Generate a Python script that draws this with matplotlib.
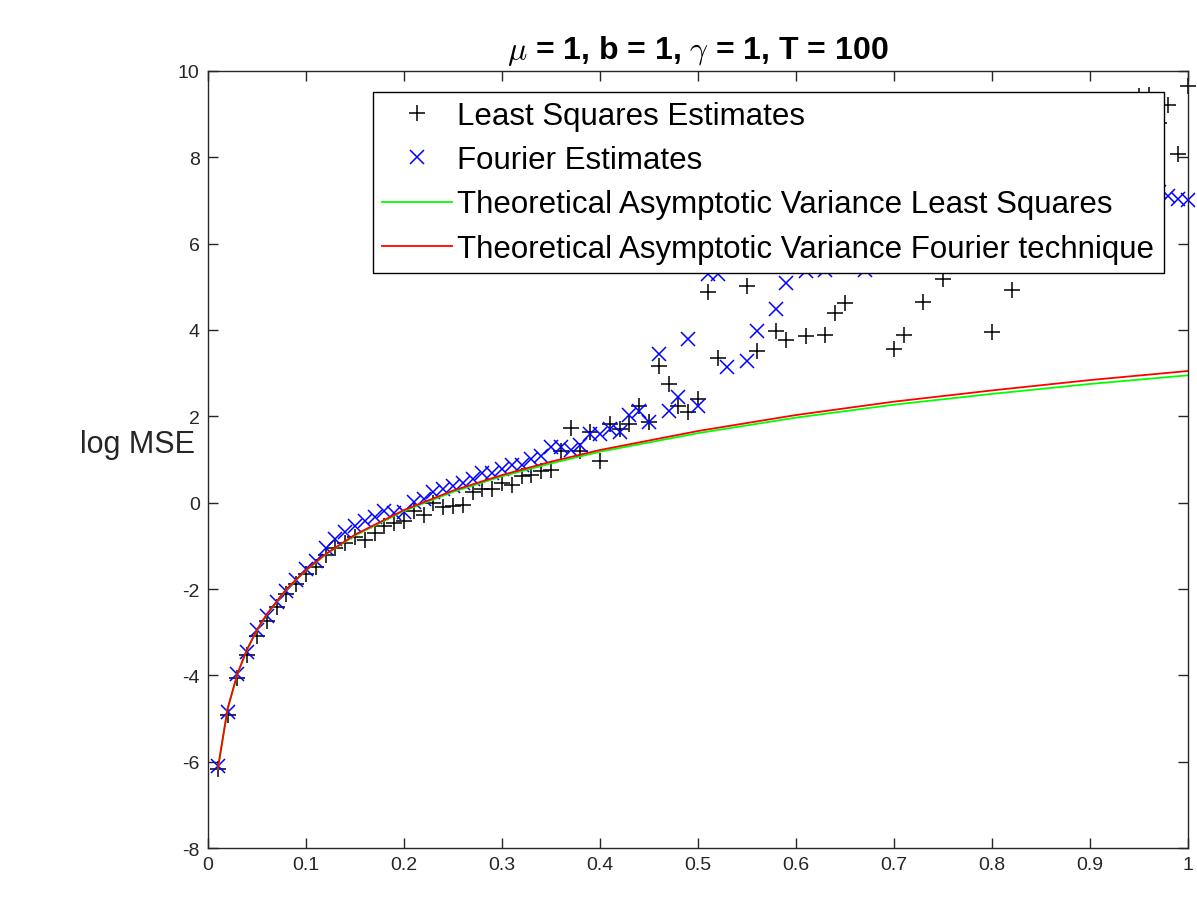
import matplotlib
matplotlib.use("Agg")
import matplotlib.pyplot as plt
import numpy as np

plt.rcParams['font.family'] = ['Liberation Sans', 'DejaVu Sans']
plt.rcParams['mathtext.fontset'] = 'cm'
plt.rcParams['axes.unicode_minus'] = False

# Sampling step values (x axis)
delta = [round(0.01 * i, 2) for i in range(1, 101)]

# Least squares estimates (log MSE)
ls_est = [
    -6.17, -4.91, -4.05, -3.54, -3.08, -2.73, -2.42, -2.11, -1.88, -1.65,
    -1.50, -1.22, -1.05, -0.93, -0.79, -0.86, -0.70, -0.54, -0.47, -0.42,
    -0.19, -0.28, 0.00, -0.10, -0.08, -0.05, 0.25, 0.32, 0.32, 0.46,
    0.41, 0.62, 0.64, 0.73, 0.76, 1.20, 1.72, 1.20, 1.63, 0.97,
    1.82, 1.70, 1.82, 2.25, 1.87, 3.17, 2.75, 2.25, 2.10, 2.40,
    4.87, 3.35, 6.40, 7.10, 5.03, 3.52, 6.60, 3.97, 3.77, 6.90,
    3.86, 7.30, 3.89, 4.39, 4.62, 6.80, 7.60, 7.00, 8.10, 3.56,
    3.88, 7.40, 4.64, 8.00, 5.18, 7.70, 5.55, 8.30, 7.20, 3.96,
    8.60, 4.93, 7.90, 8.80, 8.20, 9.00, 7.50, 8.40, 9.10, 8.70,
    9.00, 8.50, 9.20, 8.90, 9.42, 9.45, 8.80, 9.20, 8.08, 9.66,
]

# Fourier estimates (log MSE)
fourier_est = [
    -6.09, -4.85, -3.97, -3.46, -2.95, -2.62, -2.31, -2.04, -1.78, -1.54,
    -1.34, -1.05, -0.84, -0.68, -0.54, -0.42, -0.33, -0.19, -0.24, -0.22,
    0.02, 0.09, 0.25, 0.32, 0.39, 0.46, 0.55, 0.69, 0.69, 0.78,
    0.87, 0.87, 1.01, 1.08, 1.30, 1.30, 1.22, 1.33, 1.58, 1.59,
    1.70, 1.63, 2.02, 2.13, 1.87, 3.44, 2.13, 2.44, 3.79, 2.25,
    5.30, 5.30, 3.14, 6.10, 3.27, 3.97, 6.20, 4.48, 5.08, 6.30,
    5.36, 6.40, 5.40, 6.20, 6.30, 6.50, 5.40, 6.20, 6.60, 6.40,
    6.70, 6.30, 6.80, 6.50, 6.90, 6.70, 6.60, 7.00, 6.80, 6.90,
    7.10, 6.70, 7.00, 7.20, 6.90, 7.10, 7.30, 7.00, 7.20, 7.10,
    7.30, 7.00, 7.20, 7.40, 7.10, 7.30, 7.20, 7.10, 7.03, 7.00,
]

# Theoretical asymptotic variance curves
theory_x = [0.01, 0.02, 0.03, 0.04, 0.05, 0.06, 0.08, 0.10, 0.12, 0.15,
            0.20, 0.25, 0.30, 0.35, 0.40, 0.50, 0.60, 0.70, 0.80, 0.90, 1.00]
theory_fourier = [-6.16, -4.77, -3.96, -3.39, -2.94, -2.58, -2.00, -1.56, -1.19, -0.74,
                  -0.17, 0.28, 0.64, 0.95, 1.22, 1.66, 2.03, 2.34, 2.60, 2.84, 3.05]
theory_ls = [-6.17, -4.78, -3.97, -3.40, -2.95, -2.59, -2.01, -1.57, -1.20, -0.76,
             -0.19, 0.25, 0.61, 0.91, 1.18, 1.61, 1.97, 2.27, 2.52, 2.75, 2.95]

fig = plt.figure(figsize=(11.97, 9.04), dpi=100)
ax = fig.add_axes([0.1738, 0.0608, 0.8187, 0.8596])

dark = '#262626'
ax.plot(delta, ls_est, linestyle='none', marker='+', color='black',
        markersize=12, markeredgewidth=1.1, clip_on=False,
        label='Least Squares Estimates')
ax.plot(delta, fourier_est, linestyle='none', marker='x', color='blue',
        markersize=10, markeredgewidth=1.1, clip_on=False,
        label='Fourier Estimates')
ax.plot(theory_x, theory_ls, color='#00ff00', linewidth=1.3,
        label='Theoretical Asymptotic Variance Least Squares')
ax.plot(theory_x, theory_fourier, color='red', linewidth=1.3,
        label='Theoretical Asymptotic Variance Fourier technique')

ax.set_xlim(0, 1)
ax.set_ylim(-8, 10)
ax.set_xticks(np.arange(0, 1.01, 0.1))
ax.set_xticklabels(['0', '0.1', '0.2', '0.3', '0.4', '0.5', '0.6', '0.7', '0.8', '0.9', '1'])
ax.set_yticks(np.arange(-8, 11, 2))
ax.tick_params(direction='in', length=7, width=1, top=True, right=True,
               labelsize=14, colors=dark, pad=6)
for s in ax.spines.values():
    s.set_color(dark)
    s.set_linewidth(1)

ax.set_title(r'$\mu$ = 1, b = 1, $\gamma$ = 1, T = 100', fontsize=23,
             fontweight='bold', pad=9, color='black')
ax.set_ylabel('log MSE', rotation=0, fontsize=22, ha='right', va='center', color=dark)
ax.yaxis.set_label_coords(-0.013, 0.52)

leg = ax.legend(loc='upper right', bbox_to_anchor=(0.975, 0.973), fontsize=22.5,
                frameon=True, fancybox=False, framealpha=1, edgecolor='black',
                borderpad=0.3, labelspacing=0.45, handlelength=2.25,
                handletextpad=0.15, borderaxespad=0)
leg.get_frame().set_linewidth(1)

fig.savefig('out.png', dpi=100)
